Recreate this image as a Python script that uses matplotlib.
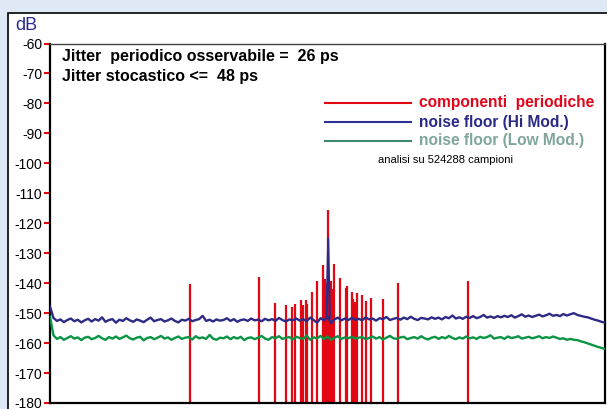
import matplotlib.pyplot as plt
import numpy as np
from matplotlib.patches import Rectangle
from matplotlib.lines import Line2D

plt.rcParams['font.family'] = ['Liberation Sans', 'DejaVu Sans']

# periodic components (frequency in kHz, level in dB)
spike_khz = [6.05, 9.05, 9.72, 10.21, 10.47, 10.61, 10.85, 10.94, 11.07, 11.11,
             11.32, 11.56, 11.82, 11.87, 11.91, 11.96, 11.99, 12.03, 12.09, 12.13,
             12.17, 12.22, 12.28, 12.53, 12.79, 12.83, 13.05, 13.09, 13.19, 13.26,
             13.51, 13.67, 13.90, 14.40, 15.06, 18.06]
spike_db = [-140.3, -138.1, -146.7, -147.2, -148.0, -147.0, -145.6, -147.2, -145.6, -146.8,
            -143.0, -139.4, -133.8, -141.0, -138.5, -140.0, -142.0, -115.7, -141.0, -139.3,
            -143.0, -142.0, -133.6, -138.2, -141.5, -141.0, -142.8, -145.3, -146.4, -143.3,
            -144.0, -145.9, -144.8, -145.4, -140.0, -139.2]

# noise floors, 161 bins from 0 to 24 kHz
floor_khz = np.linspace(0, 24, 161)
hi_mod_db = [
    -147.8, -151.6, -152.6, -152.1, -153.0, -152.3, -151.8, -152.7, -152.2, -153.1,
    -152.4, -151.9, -152.8, -152.0, -152.5, -151.4, -152.9, -152.3, -152.0, -153.2,
    -152.2, -152.6, -151.7, -152.4, -152.9, -152.1, -152.5, -153.0, -152.2, -151.5,
    -152.7, -152.3, -152.0, -152.8, -152.4, -151.8, -152.6, -153.1, -152.2, -152.5,
    -151.9, -152.7, -152.3, -152.0, -150.9, -152.6, -152.2, -152.8, -152.1, -152.5,
    -152.3, -151.7, -152.6, -152.0, -152.9, -152.3, -152.1, -152.6, -151.8, -152.4,
    -152.2, -152.7, -151.9, -152.4, -152.0, -152.6, -151.6, -152.3, -152.8, -152.1,
    -152.4, -151.8, -152.5, -152.0, -152.7, -151.5, -152.3, -153.2, -151.7, -152.4,
    -151.2, -153.3, -152.1, -151.5, -152.4, -151.8, -152.3, -151.6, -152.2, -151.9,
    -152.4, -151.4, -152.1, -151.8, -152.5, -151.7, -152.0, -151.3, -152.3, -151.9,
    -151.6, -152.2, -151.5, -152.0, -151.2, -151.9, -152.3, -151.6, -151.8, -152.1,
    -151.4, -151.9, -151.5, -152.1, -151.3, -151.7, -150.8, -151.8, -151.4, -151.9,
    -151.2, -151.6, -151.0, -151.7, -151.3, -150.6, -151.5, -151.1, -151.6, -151.0,
    -151.4, -150.9, -151.3, -150.7, -151.5, -151.0, -150.4, -151.2, -150.8, -151.3,
    -150.9, -150.5, -151.1, -150.7, -150.2, -150.9, -150.6, -151.0, -150.3, -150.8,
    -150.4, -150.0, -150.6, -150.9, -151.2, -151.4, -151.8, -152.2, -152.5, -152.9,
    -153.2]
low_mod_db = [
    -151.2, -157.4, -158.6, -158.0, -158.9, -158.3, -157.7, -158.5, -158.1, -159.0,
    -158.2, -157.9, -158.7, -158.3, -157.6, -158.4, -158.9, -158.0, -158.5, -157.8,
    -158.6, -158.1, -157.5, -158.4, -158.8, -158.2, -157.9, -159.1, -158.3, -158.0,
    -158.7, -158.2, -157.6, -158.5, -158.1, -158.9, -158.3, -157.8, -158.6, -158.2,
    -158.0, -158.8, -157.7, -158.4, -158.1, -158.6, -157.3, -158.5, -158.9, -158.2,
    -158.4, -157.8, -158.7, -158.0, -158.5, -157.9, -159.0, -158.3, -158.1, -158.7,
    -158.2, -157.6, -158.5, -158.9, -158.0, -158.4, -157.7, -158.6, -158.2, -158.0,
    -158.8, -157.9, -158.3, -158.6, -157.5, -158.9, -158.1, -158.4, -157.6, -158.7,
    -157.8, -158.9, -158.2, -157.7, -158.6, -158.1, -158.4, -157.9, -158.5, -158.2,
    -158.0, -158.7, -158.3, -157.8, -158.5, -158.0, -158.8, -158.2, -157.6, -158.4,
    -158.6, -158.1, -157.9, -158.7, -158.3, -158.0, -158.5, -157.7, -158.4, -158.8,
    -158.2, -157.9, -158.6, -158.0, -158.4, -157.6, -158.3, -158.7, -158.1, -158.5,
    -157.8, -158.4, -158.1, -158.6, -157.9, -158.3, -158.0, -157.4, -158.5, -158.2,
    -158.0, -158.6, -157.8, -158.3, -158.1, -157.7, -158.5, -158.2, -157.9, -158.4,
    -158.1, -157.7, -158.4, -158.0, -158.3, -157.8, -158.2, -158.6, -158.4, -158.9,
    -158.6, -158.9, -159.0, -159.4, -159.7, -160.1, -160.5, -160.9, -161.3, -161.6,
    -162.0]

# blue peak at the test tone
tone_khz = [11.96, 12.03, 12.10]
tone_db = [-151.0, -125.0, -151.5]

yticks = [-60, -70, -80, -90, -100, -110, -120, -130, -140, -150, -160, -170, -180]

W, H = 607, 409
fig = plt.figure(figsize=(W / 100, H / 100), dpi=100)
fig.patch.set_facecolor('#dfe9f6')
fig.add_artist(Rectangle((8 / W, -0.05), 1.0, (H - 13) / H + 0.05, transform=fig.transFigure,
                         facecolor='white', edgecolor='black', lw=1.2, zorder=0))

ax = fig.add_axes([50 / W, 6 / H, 555 / W, 359.5 / H])
ax.vlines(spike_khz, -180, spike_db, color='#e30613', lw=1.6, zorder=2)
ax.plot(floor_khz, hi_mod_db, color='#2e2a86', lw=1.7, zorder=3)
ax.plot(floor_khz, low_mod_db, color='#0a9444', lw=1.7, zorder=3)
ax.plot(tone_khz, tone_db, color='#2e2a86', lw=1.5, zorder=3)

ax.set_xlim(0, 24)
ax.set_ylim(-180, -60)
ax.set_xticks([])
ax.set_yticks(yticks)
ax.set_yticklabels([str(t) for t in yticks], fontsize=10)
ax.tick_params(axis='y', direction='out', length=4, width=1.5, color='#e30613', pad=1.5)
for side in ['left', 'bottom', 'right']:
    ax.spines[side].set_linewidth(1.6)
ax.spines['top'].set_linewidth(1.0)
ax.spines['top'].set_color('#444444')


def fx(x):
    return x / W


def fy(y):
    return 1 - y / H


fig.text(fx(26), fy(25), 'dB', color='#2a2a8a', fontsize=13, ha='center', va='center')

fig.text(fx(62), fy(57), 'Jitter  periodico osservabile =  26 ps', fontsize=11.5,
         fontweight='bold', va='center')
fig.text(fx(62), fy(77), 'Jitter stocastico <=  48 ps', fontsize=11.5,
         fontweight='bold', va='center')

legend_rows = [(103, '#e30613', '#e2061a', 'componenti  periodiche'),
               (122, '#2e3192', '#2b2a85', 'noise floor (Hi Mod.)'),
               (141, '#3e8a6f', '#7fa59c', 'noise floor (Low Mod.)')]
for y, lc, tc, label in legend_rows:
    fig.add_artist(Line2D([fx(325), fx(411)], [fy(y), fy(y)], color=lc, lw=1.5,
                          transform=fig.transFigure))
    fig.text(fx(419), fy(y), label, color=tc, fontsize=11.2, fontweight='bold', va='center')

fig.text(fx(378), fy(160), 'analisi su 524288 campioni', fontsize=8, va='center')

fig.savefig('out.png', dpi=100, facecolor=fig.get_facecolor())
